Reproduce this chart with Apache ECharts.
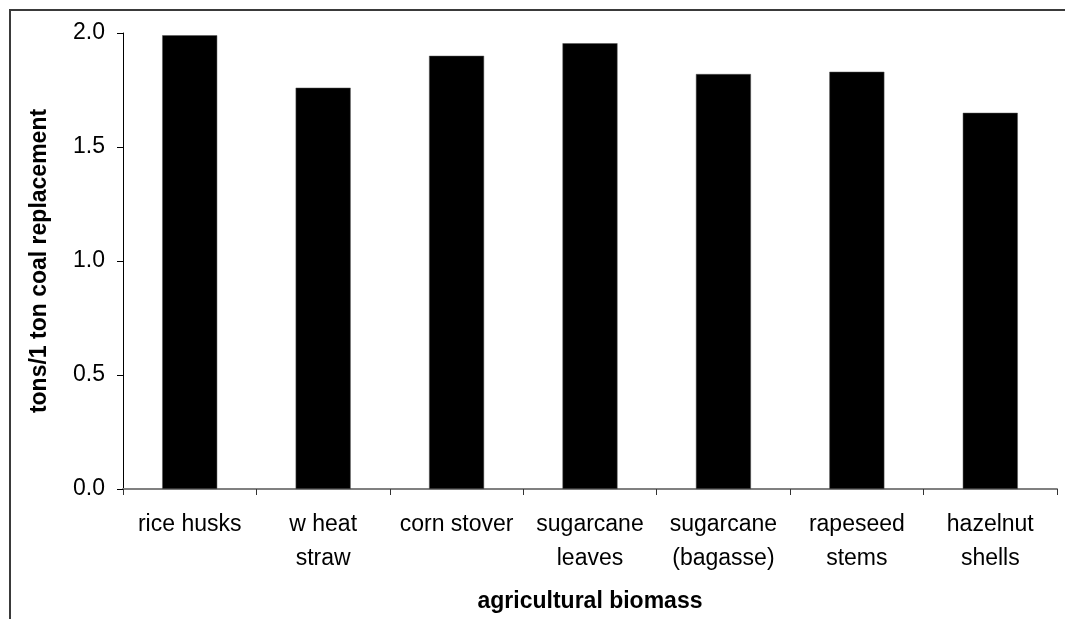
<!DOCTYPE html>
<html>
<head>
<meta charset="utf-8">
<style>
  html, body { margin: 0; padding: 0; background: #fff; }
  #chart { width: 1065px; height: 619px; }
</style>
<script src="https://cdn.jsdelivr.net/npm/echarts@6/dist/echarts.min.js"></script>
</head>
<body>
<div id="chart"></div>
<script>
// data
var categories = ['rice husks', 'w heat\nstraw', 'corn stover', 'sugarcane\nleaves', 'sugarcane\n(bagasse)', 'rapeseed\nstems', 'hazelnut\nshells'];
var replacement = [1.99, 1.76, 1.90, 1.955, 1.82, 1.83, 1.65];
var yTicks = { min: 0, max: 2, interval: 0.5 };

var font = '"Liberation Sans", Arial, sans-serif';

var chart = echarts.init(document.getElementById('chart'));

var option = {
    animation: false,
    backgroundColor: '#fff',
    graphic: [{
        type: 'rect',
        shape: { x: 10, y: 10, width: 1200, height: 800 },
        style: { fill: 'none', stroke: '#3a3a3a', lineWidth: 2 },
        silent: true
    }],
    grid: {
        left: 123,
        right: 8,
        top: 33,
        bottom: 130
    },
    xAxis: {
        type: 'category',
        data: categories,
        name: 'agricultural biomass',
        nameLocation: 'middle',
        nameGap: 101,
        nameTextStyle: { fontFamily: font, fontSize: 23, fontWeight: 'bold', color: '#000' },
        axisLine: { lineStyle: { color: '#808080', width: 2 } },
        axisTick: { show: true, length: 6, lineStyle: { color: '#333' } },
        axisLabel: {
            interval: 0,
            margin: 19,
            fontFamily: font,
            fontSize: 23,
            lineHeight: 34,
            color: '#000'
        },
        splitLine: { show: false }
    },
    yAxis: {
        type: 'value',
        min: yTicks.min,
        max: yTicks.max,
        interval: yTicks.interval,
        name: 'tons/1 ton coal replacement',
        nameLocation: 'middle',
        nameGap: 72,
        nameTextStyle: { fontFamily: font, fontSize: 23, fontWeight: 'bold', color: '#000' },
        axisLine: { show: true, lineStyle: { color: '#000', width: 1 } },
        axisTick: { show: true, length: 6, lineStyle: { color: '#000' } },
        axisLabel: {
            margin: 18,
            fontFamily: font,
            fontSize: 23,
            color: '#000',
            formatter: function (v) { return v.toFixed(1); }
        },
        splitLine: { show: false }
    },
    series: [{
        type: 'bar',
        data: replacement,
        barWidth: 55,
        itemStyle: { color: '#000', borderColor: '#555', borderWidth: 0.5 }
    }]
};

chart.setOption(option);
</script>
</body>
</html>
